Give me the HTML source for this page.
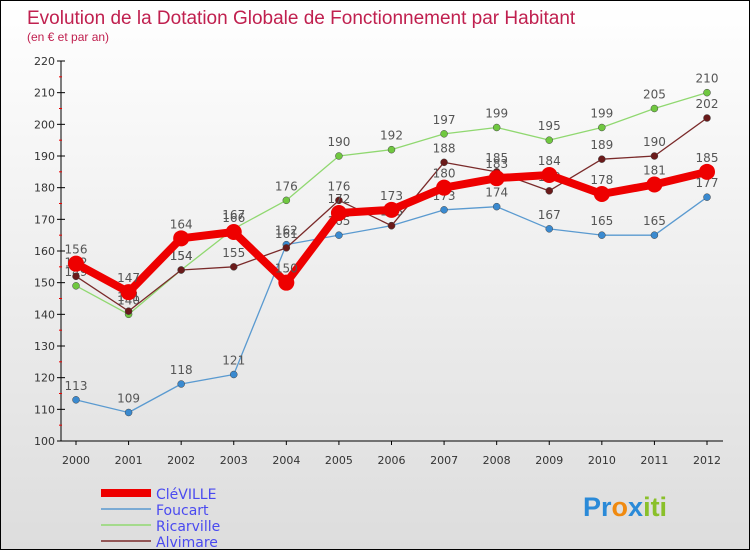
<!DOCTYPE html>
<html><head><meta charset="utf-8"><style>
body{margin:0}
#c{width:750px;height:550px;position:relative;box-sizing:border-box;border:1px solid #000;background:linear-gradient(#fff,#ddd);font-family:"DejaVu Sans","Liberation Sans",sans-serif;overflow:hidden}
</style></head><body>
<div id="c">
<svg id="s" width="750" height="550" style="position:absolute;left:0;top:0">
<text x="26" y="23" font-size="19" fill="#c0204f" font-family="Liberation Sans,sans-serif">Evolution de la Dotation Globale de Fonctionnement par Habitant</text>
<text x="26" y="40" font-size="12" fill="#c0204f" font-family="Liberation Sans,sans-serif">(en € et par an)</text>
<g id="g"></g>
<g><text x="582" y="515" font-size="27" font-weight="bold" font-family="Liberation Sans,sans-serif"><tspan fill="#2a8ad8">Pr</tspan><tspan fill="#f08a10">o</tspan><tspan fill="#2a8ad8">x</tspan><tspan fill="#8ac02a">iti</tspan></text></g>
</svg>
</div>
<script>
const years=[2000,2001,2002,2003,2004,2005,2006,2007,2008,2009,2010,2011,2012];
const yTicks=[100,110,120,130,140,150,160,170,180,190,200,210,220];
const cleville=[156,147,164,166,150,172,173,180,183,184,178,181,185];
const foucart=[113,109,118,121,162,165,168,173,174,167,165,165,177];
const ricarville=[149,140,154,167,176,190,192,197,199,195,199,205,210];
const alvimare=[152,141,154,155,161,176,168,188,185,179,189,190,202];
const names=['CléVILLE','Foucart','Ricarville','Alvimare'];
const NS='http://www.w3.org/2000/svg',g=document.getElementById('g');
const X=i=>75+i*(706-75)/(years.length-1), Y=v=>440-(v-100)*380/120;
function el(t,a,p){const e=document.createElementNS(NS,t);for(const k in a)e.setAttribute(k,a[k]);(p||g).appendChild(e);return e;}
let ax=el('line',{x1:60,y1:Y(220),x2:60,y2:440,stroke:'#000'});


let bx=el('line',{x1:60,y1:440,x2:722,y2:440,stroke:'#000'});


yTicks.forEach(v=>{el('line',{x1:56,y1:Y(v),x2:64,y2:Y(v),stroke:'#000'});
if(v<220)el('line',{x1:58,y1:Y(v+5),x2:61,y2:Y(v+5),stroke:'#e00'});
const t=el('text',{x:54,y:Y(v)+4,'font-size':11,'text-anchor':'end',fill:'#333'});t.textContent=v;

});
years.forEach((y,i)=>{el('line',{x1:X(i),y1:440,x2:X(i),y2:444,stroke:'#000'});
const t=el('text',{x:X(i),y:463,'font-size':11,'text-anchor':'middle',fill:'#333'});t.textContent=y;

});
const series=[[foucart,'#5a9ad0',1.3,3.5,'#3a8ad0'],[ricarville,'#90d870',1.3,3.5,'#70c840'],[alvimare,'#7a2a2a',1.3,3.5,'#6a1a1a'],[cleville,'#ee0000',8,8,'#ee0000']];
const idx=[1,2,3,0];
series.forEach((s,k)=>{const d=s[0];const grp=el('g',{});


el('polyline',{points:d.map((v,i)=>X(i)+','+Y(v)).join(' '),fill:'none',stroke:s[1],'stroke-width':s[2],'stroke-linejoin':'round'},grp);
d.forEach((v,i)=>{const c=el('circle',{cx:X(i),cy:Y(v),r:s[3],fill:s[4],stroke:k==3?'none':'#444','stroke-width':0.5},grp);


const t=el('text',{x:X(i),y:Y(v)-10,'font-size':12,'text-anchor':'middle',fill:'#555'},grp);t.textContent=v;

});});
const lc=['#ee0000','#5a9ad0','#90d870','#7a2a2a'],lw=[8,1.5,1.5,1.5];
names.forEach((n,i)=>{const y=492+i*16;const grp=el('g',{});


el('line',{x1:100,y1:y,x2:150,y2:y,stroke:lc[i],'stroke-width':lw[i]},grp);
const t=el('text',{x:155,y:y+6,'font-size':14,fill:'#4a4af0'},grp);t.textContent=n;});
</script>
</body></html>
